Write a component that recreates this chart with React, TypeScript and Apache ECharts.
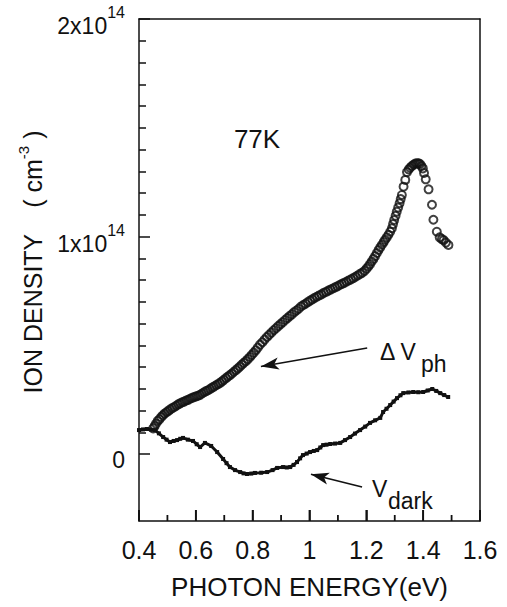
import { useEffect, useRef } from "react";
import * as echarts from "echarts";

// ΔVph (open circles): photon energy (eV) and ion density (units of 1e14 cm^-3)
const VPH_ENERGY = [
  0.450, 0.455, 0.460, 0.466, 0.472, 0.478, 0.484, 0.490, 0.497, 0.503,
  0.510, 0.517, 0.524, 0.531, 0.538, 0.545, 0.552, 0.559, 0.566, 0.573,
  0.580, 0.587, 0.594, 0.601, 0.608, 0.615, 0.622, 0.629, 0.636, 0.643,
  0.650, 0.657, 0.664, 0.671, 0.678, 0.685, 0.692, 0.699, 0.706, 0.713,
  0.720, 0.727, 0.734, 0.741, 0.748, 0.755, 0.762, 0.769, 0.776, 0.783,
  0.790, 0.797, 0.804, 0.811, 0.818, 0.826, 0.834, 0.842, 0.850, 0.858,
  0.866, 0.874, 0.882, 0.890, 0.898, 0.906, 0.914, 0.922, 0.930, 0.938,
  0.946, 0.954, 0.962, 0.970, 0.978, 0.986, 0.994, 1.002, 1.010, 1.018,
  1.026, 1.034, 1.042, 1.050, 1.058, 1.066, 1.074, 1.082, 1.090, 1.098,
  1.106, 1.114, 1.122, 1.130, 1.138, 1.146, 1.154, 1.162, 1.170, 1.178,
  1.186, 1.194, 1.201, 1.207, 1.213, 1.219, 1.225, 1.231, 1.237, 1.243,
  1.249, 1.255, 1.261, 1.266, 1.272, 1.278, 1.284, 1.290, 1.294, 1.298,
  1.303, 1.307, 1.312, 1.317, 1.321, 1.325, 1.331, 1.337, 1.343, 1.349,
  1.354, 1.360, 1.366, 1.372, 1.378, 1.384, 1.389, 1.394, 1.399, 1.403,
  1.409, 1.419, 1.431, 1.436, 1.448, 1.458, 1.466, 1.472, 1.480, 1.489,
];
const VPH_DENSITY = [
  0.118, 0.128, 0.140, 0.152, 0.160, 0.170, 0.178, 0.186, 0.192, 0.198,
  0.205, 0.211, 0.216, 0.222, 0.228, 0.233, 0.238, 0.241, 0.246, 0.249,
  0.254, 0.258, 0.262, 0.265, 0.268, 0.272, 0.278, 0.284, 0.289, 0.293,
  0.299, 0.305, 0.310, 0.316, 0.321, 0.327, 0.334, 0.341, 0.349, 0.356,
  0.363, 0.370, 0.378, 0.386, 0.394, 0.402, 0.411, 0.419, 0.427, 0.436,
  0.446, 0.456, 0.466, 0.477, 0.489, 0.503, 0.514, 0.526, 0.538, 0.548,
  0.558, 0.569, 0.578, 0.588, 0.597, 0.606, 0.616, 0.625, 0.634, 0.642,
  0.652, 0.660, 0.668, 0.678, 0.685, 0.691, 0.698, 0.705, 0.711, 0.718,
  0.723, 0.729, 0.734, 0.741, 0.745, 0.751, 0.756, 0.761, 0.766, 0.771,
  0.777, 0.782, 0.787, 0.792, 0.798, 0.803, 0.809, 0.815, 0.821, 0.828,
  0.834, 0.842, 0.852, 0.862, 0.873, 0.885, 0.897, 0.910, 0.924, 0.938,
  0.950, 0.962, 0.974, 0.985, 0.996, 1.008, 1.022, 1.038, 1.057, 1.076,
  1.095, 1.114, 1.133, 1.153, 1.172, 1.191, 1.229, 1.260, 1.296, 1.308,
  1.316, 1.324, 1.330, 1.335, 1.337, 1.336, 1.333, 1.324, 1.313, 1.292,
  1.263, 1.217, 1.146, 1.077, 1.022, 0.996, 0.988, 0.983, 0.972, 0.961,
];

// Vdark (thick jagged line)
const DARK_ENERGY = [
  0.400, 0.414, 0.428, 0.442, 0.456, 0.470, 0.485, 0.497, 0.509, 0.522,
  0.534, 0.545, 0.555, 0.572, 0.590, 0.603, 0.615, 0.632, 0.654, 0.675,
  0.696, 0.708, 0.720, 0.738, 0.756, 0.768, 0.780, 0.795, 0.808, 0.830,
  0.851, 0.870, 0.886, 0.907, 0.920, 0.932, 0.944, 0.956, 0.967, 0.977,
  0.990, 1.002, 1.015, 1.027, 1.038, 1.048, 1.060, 1.073, 1.090, 1.108,
  1.125, 1.143, 1.160, 1.178, 1.196, 1.213, 1.231, 1.249, 1.259, 1.271,
  1.284, 1.296, 1.308, 1.320, 1.330, 1.348, 1.365, 1.383, 1.400, 1.416,
  1.432, 1.446, 1.460, 1.474, 1.488,
];
const DARK_DENSITY = [
  0.110, 0.113, 0.115, 0.112, 0.110, 0.095, 0.078, 0.066, 0.055, 0.060,
  0.064, 0.070, 0.074, 0.066, 0.060, 0.045, 0.032, 0.051, 0.037, 0.009,
  -0.023, -0.042, -0.060, -0.074, -0.083, -0.089, -0.092, -0.090, -0.087, -0.086,
  -0.083, -0.074, -0.064, -0.060, -0.062, -0.060, -0.050, -0.037, -0.020, -0.005,
  0.002, 0.009, 0.014, 0.018, 0.030, 0.041, 0.043, 0.046, 0.048, 0.051,
  0.064, 0.078, 0.094, 0.110, 0.126, 0.143, 0.155, 0.166, 0.193, 0.208,
  0.225, 0.241, 0.257, 0.270, 0.280, 0.283, 0.285, 0.284, 0.285, 0.292,
  0.299, 0.290, 0.280, 0.271, 0.262,
];

// arrows: [start energy, start density, head energy, head density]
const ARROW_VPH = [1.203, 0.487, 0.829, 0.402];
const ARROW_DARK = [1.185, -0.152, 1.005, -0.093];

// axis ticks
const X_TICKS = [0.4, 0.5, 0.6, 0.7, 0.8, 0.9, 1.0, 1.1, 1.2, 1.3, 1.4, 1.5, 1.6];
const Y_TICK_VALUES = [0, 1, 2];
const Y_MIN = -0.308;
const Y_MAX = 2;
const X_AXIS_TITLE = "PHOTON ENERGY(eV)";
const TEMP_LABEL = "77K";

export default function App() {
  const ref = useRef<HTMLDivElement>(null);

  useEffect(() => {
    const chart = echarts.init(ref.current!, null, { renderer: "svg" });
    const font = "'Liberation Sans', Arial, Helvetica, sans-serif";
    const ink = "#111";
    const frameLine = () => ({ show: true, onZero: false, lineStyle: { color: ink, width: 1.5 } });
    const tickStyle = () => ({ color: ink, width: 1.5 });

    const vph = VPH_ENERGY.map((e, i) => [e, VPH_DENSITY[i]]);
    const dark = DARK_ENERGY.map((e, i) => [e, DARK_DENSITY[i]]);

    chart.setOption({
      animation: false,
      backgroundColor: "#fff",
      grid: [
        { left: 139, right: 27, top: 19, bottom: 86, show: false },
        { left: 139, right: 27, top: 19, height: 435, show: false },
      ],
      xAxis: [
        {
          gridIndex: 0,
          type: "value",
          position: "bottom",
          min: 0.4,
          max: 1.6,
          interval: 0.2,
          axisLine: frameLine(),
          axisTick: { show: true, inside: true, length: 11, lineStyle: tickStyle() },
          splitLine: { show: false },
          axisLabel: { show: true, color: ink, fontSize: 25, fontFamily: font, margin: 16 },
          name: X_AXIS_TITLE,
          nameLocation: "middle",
          nameGap: 53,
          nameTextStyle: { color: ink, fontSize: 26, fontFamily: font },
        },
        {
          gridIndex: 1,
          type: "value",
          position: "top",
          min: 0.4,
          max: 1.6,
          axisLine: frameLine(),
          axisTick: { show: false },
          axisLabel: { show: false },
          splitLine: { show: false },
        },
      ],
      yAxis: [
        {
          gridIndex: 0,
          type: "value",
          position: "left",
          min: Y_MIN,
          max: Y_MAX,
          axisLine: frameLine(),
          axisTick: { show: false },
          axisLabel: { show: false },
          splitLine: { show: false },
        },
        {
          gridIndex: 1,
          type: "value",
          min: 0,
          max: Y_MAX,
          interval: 1,
          axisLine: { show: false },
          axisTick: { show: true, inside: true, length: 11, lineStyle: tickStyle() },
          minorTick: { show: true, splitNumber: 10, length: 7, lineStyle: tickStyle() },
          splitLine: { show: false },
          axisLabel: {
            margin: 14,
            formatter: (v: number) =>
              Y_TICK_VALUES.indexOf(v) < 0 ? "" : v === 0 ? "{z|0}" : `{b|${v}x10}{s|14}`,
            rich: {
              z: { fontSize: 23, fontFamily: font, color: ink, padding: [11, 0, 0, 0] },
              b: { fontSize: 23, lineHeight: 23, fontFamily: font, color: ink, verticalAlign: "bottom" },
              s: { fontSize: 16, fontFamily: font, color: ink, verticalAlign: "top", padding: [4, 0, 17, 0] },
            },
          },
        },
        {
          gridIndex: 0,
          type: "value",
          position: "right",
          min: Y_MIN,
          max: Y_MAX,
          axisLine: frameLine(),
          axisTick: { show: false },
          axisLabel: { show: false },
          splitLine: { show: false },
        },
      ],
      series: [
        {
          type: "scatter",
          xAxisIndex: 0,
          yAxisIndex: 0,
          data: vph,
          symbol: "circle",
          symbolSize: 8,
          itemStyle: { color: "rgba(255,255,255,0)", borderColor: ink, borderWidth: 2 },
          silent: true,
        },
        {
          type: "line",
          xAxisIndex: 0,
          yAxisIndex: 0,
          data: dark,
          symbol: "rect",
          symbolSize: 4,
          showSymbol: true,
          itemStyle: { color: ink },
          lineStyle: { color: ink, width: 3 },
          silent: true,
          markLine: {
            silent: true,
            symbol: ["none", "arrow"],
            symbolSize: [9, 18],
            label: { show: false },
            lineStyle: { color: ink, width: 1.6, type: "solid" },
            data: [
              [{ coord: [ARROW_VPH[0], ARROW_VPH[1]] }, { coord: [ARROW_VPH[2], ARROW_VPH[3]] }],
              [{ coord: [ARROW_DARK[0], ARROW_DARK[1]] }, { coord: [ARROW_DARK[2], ARROW_DARK[3]] }],
            ],
          },
        },
        {
          type: "custom",
          xAxisIndex: 0,
          yAxisIndex: 0,
          silent: true,
          clip: false,
          z: 10,
          data: X_TICKS.map((v) => [v, Y_MIN]),
          renderItem: (_params: any, api: any) => {
            const v = api.value(0);
            const p = api.coord([v, api.value(1)]);
            const major = Math.abs(v * 5 - Math.round(v * 5)) < 1e-6;
            const len = major ? 11 : 6;
            return {
              type: "line",
              shape: { x1: p[0], y1: p[1], x2: p[0], y2: p[1] - len },
              style: { stroke: ink, lineWidth: 1.8 },
            };
          },
        },
      ],
      graphic: [
        {
          type: "text",
          x: 28,
          y: 262,
          rotation: Math.PI / 2,
          style: {
            text: "{t|ION DENSITY}{g| }{t|( cm}{s|-3}{t| )}",
            align: "center",
            verticalAlign: "middle",
            rich: {
              t: { fontSize: 25, lineHeight: 25, fontFamily: font, fill: ink, color: ink, padding: [9, 0, 0, 0] },
              g: { fontSize: 25, width: 26, lineHeight: 25, padding: [9, 0, 0, 0] },
              s: { fontSize: 15, lineHeight: 15, fontFamily: font, fill: ink, color: ink, verticalAlign: "top" },
            },
          },
        },
        {
          type: "text",
          x: 257,
          y: 139,
          style: { text: TEMP_LABEL, fontSize: 26, fontFamily: font, fill: ink, align: "center", verticalAlign: "middle" },
        },
        {
          type: "text",
          x: 380,
          y: 352,
          style: { text: "Δ V", fontSize: 23, fontFamily: font, fill: ink, align: "left", verticalAlign: "middle" },
        },
        {
          type: "text",
          x: 421,
          y: 364,
          style: { text: "ph", fontSize: 23, fontFamily: font, fill: ink, align: "left", verticalAlign: "middle" },
        },
        {
          type: "text",
          x: 372,
          y: 489,
          style: { text: "V", fontSize: 23, fontFamily: font, fill: ink, align: "left", verticalAlign: "middle" },
        },
        {
          type: "text",
          x: 388,
          y: 501,
          style: { text: "dark", fontSize: 23, fontFamily: font, fill: ink, align: "left", verticalAlign: "middle" },
        },
      ],
    });

    return () => chart.dispose();
  }, []);

  return (
    <div
      ref={ref}
      style={{ position: "absolute", left: 0, top: 0, width: 507, height: 607, background: "#fff" }}
    />
  );
}
